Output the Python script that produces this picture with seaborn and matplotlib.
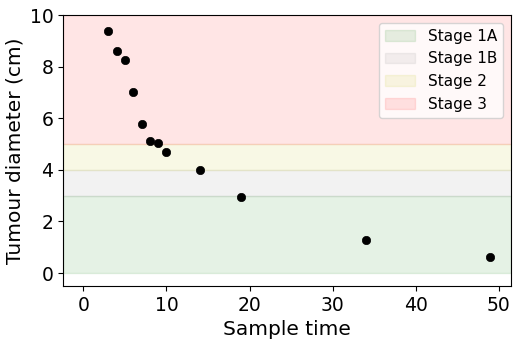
import matplotlib
matplotlib.use("Agg")
import matplotlib.pyplot as plt
import seaborn as sns
import pandas as pd

# sample times and measured tumour diameters
sample_time = [3, 4, 5, 6, 7, 8, 9, 10, 14, 19, 34, 49]
diameter = [9.37, 8.59, 8.24, 7.0, 5.76, 5.1, 5.03, 4.68, 3.98, 2.93, 1.27, 0.61]

# stage bands (lower, upper)
stage_names = ["Stage 1A", "Stage 1B", "Stage 2", "Stage 3"]
stage_low = [0, 3, 4, 5]
stage_high = [3, 4, 5, 10]
stage_colors = ["green", "gray", "y", "red"]

x_ticks = [0, 10, 20, 30, 40, 50]
y_ticks = [0, 2, 4, 6, 8, 10]

df = pd.DataFrame({"time": sample_time, "diameter": diameter})

fig, ax = plt.subplots(figsize=(5.17, 3.42), dpi=100)
for name, lo, hi, c in zip(stage_names, stage_low, stage_high, stage_colors):
    ax.axhspan(lo, hi, color=c, alpha=0.1, label=name)

sns.scatterplot(data=df, x="time", y="diameter", color="black", s=36,
                edgecolor="black", linewidth=0.5, ax=ax, zorder=3)

ax.set_xlim(-2.45, 51.45)
ax.set_ylim(-0.5, 10)
ax.set_xticks(x_ticks)
ax.set_yticks(y_ticks)
ax.set_xlabel("Sample time", fontsize=14.5)
ax.set_ylabel("Tumour diameter (cm)", fontsize=14.5)
ax.tick_params(labelsize=13.5)
ax.legend(loc="upper right", fontsize=11)

plt.subplots_adjust(left=0.122, right=0.988, top=0.956, bottom=0.164)
plt.savefig("out.png", dpi=100)
